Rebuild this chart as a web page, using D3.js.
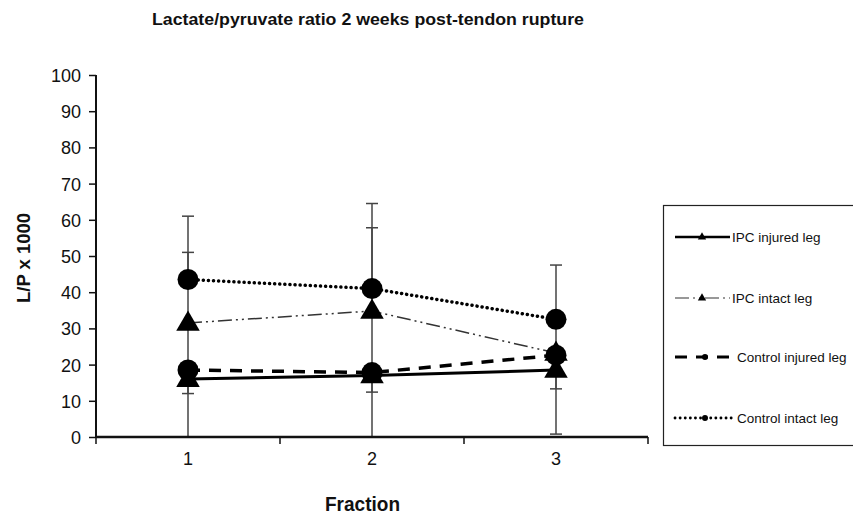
<!DOCTYPE html>
<html>
<head>
<script src="https://cdn.jsdelivr.net/npm/d3@7"></script>
<style>
  body { margin: 0; background: #fff; }
  text { font-family: "Liberation Sans", Arial, sans-serif; fill: #111; }
</style>
</head>
<body>
<svg></svg>
<script>
var w = 853, h = 515;

// data
var fractions = [1, 2, 3];
var seriesNames = ["IPC injured leg", "IPC intact leg", "Control injured leg", "Control intact leg"];
var ipcInjured = [16, 17, 18.5];
var ipcIntact = [31.5, 34.8, 23.2];
var controlInjured = [18.5, 17.8, 22.6];
var controlIntact = [43.5, 41, 32.5];
// error bars (upper / lower), null where none is drawn
var ipcInjuredUp = [null, null, null];
var ipcInjuredDown = [17, 18, 17.7];
var ipcIntactUp = [19.5, 23, 9.7];
var ipcIntactDown = [19.5, 22.4, 9.9];
var controlInjuredUp = [null, null, null];
var controlInjuredDown = [null, null, null];
var controlIntactUp = [17.5, 23.5, 15];
var controlIntactDown = [null, null, null];
var yTicks = [0, 10, 20, 30, 40, 50, 60, 70, 80, 90, 100];

var series = [
  {name: seriesNames[0], values: ipcInjured, up: ipcInjuredUp, down: ipcInjuredDown,
   marker: "tri", dash: null, width: 3, color: "#000"},
  {name: seriesNames[1], values: ipcIntact, up: ipcIntactUp, down: ipcIntactDown,
   marker: "tri", dash: "14,4,2,4,2,4", width: 1.5, color: "#333"},
  {name: seriesNames[2], values: controlInjured, up: controlInjuredUp, down: controlInjuredDown,
   marker: "circ", dash: "12,9", width: 3.5, color: "#000"},
  {name: seriesNames[3], values: controlIntact, up: controlIntactUp, down: controlIntactDown,
   marker: "circ", dash: "0.1,5", width: 3.5, color: "#000", round: true}
];

var svg = d3.select("svg").attr("width", w).attr("height", h);

var x = d3.scaleBand().domain(fractions).range([96, 648]);
var y = d3.scaleLinear().domain([0, 100]).range([437, 75]);
var cx = function(d) { return x(d) + x.bandwidth() / 2; };

// title
svg.append("text")
    .attr("x", 152).attr("y", 25)
    .attr("textLength", 432).attr("lengthAdjust", "spacingAndGlyphs")
    .style("font-size", "17px").style("font-weight", "bold")
    .text("Lactate/pyruvate ratio 2 weeks post-tendon rupture");

// error bars
series.forEach(function(s) {
  fractions.forEach(function(f, i) {
    var v = s.values[i];
    [[s.up[i], 1], [s.down[i], -1]].forEach(function(e) {
      if (e[0] == null) return;
      var end = v + e[1] * e[0];
      var clipped = end < 0;
      if (clipped) end = 0;
      svg.append("line")
          .attr("x1", cx(f)).attr("x2", cx(f))
          .attr("y1", y(v)).attr("y2", y(end))
          .attr("stroke", "#444").attr("stroke-width", 1.5);
      if (!clipped)
        svg.append("line")
            .attr("x1", cx(f) - 6).attr("x2", cx(f) + 6)
            .attr("y1", y(end)).attr("y2", y(end))
            .attr("stroke", "#444").attr("stroke-width", 1.5);
    });
  });
});

// axes
var yAxis = svg.append("g")
    .attr("transform", "translate(96,0)")
    .call(d3.axisLeft(y).tickValues(yTicks).tickSize(7).tickPadding(8));
yAxis.selectAll("text").style("font-size", "18px").attr("dy", "0.36em");
yAxis.selectAll("path, line").attr("stroke", "#111").attr("stroke-width", 1.5);
yAxis.select(".domain").attr("d", "M0,75V437").attr("stroke-width", 2);

var xAxis = svg.append("g")
    .attr("transform", "translate(0,437)")
    .call(d3.axisBottom(x).tickSize(0).tickPadding(15));
xAxis.selectAll("text").style("font-size", "18px");
xAxis.select(".domain").attr("d", "M96,0H648").attr("stroke", "#111").attr("stroke-width", 2.5);
// tick marks at category boundaries
var edges = fractions.map(function(f) { return x(f); }).concat([x.range()[1]]);
xAxis.selectAll(".edge").data(edges).enter().append("line")
    .attr("x1", function(d) { return d; }).attr("x2", function(d) { return d; })
    .attr("y1", 0).attr("y2", 7)
    .attr("stroke", "#111").attr("stroke-width", 1.5);

// axis titles
svg.append("text")
    .attr("transform", "translate(30,258) rotate(-90)")
    .attr("x", -45)
    .attr("textLength", 90).attr("lengthAdjust", "spacingAndGlyphs")
    .style("font-size", "19px").style("font-weight", "bold")
    .text("L/P x 1000");
svg.append("text")
    .attr("x", 325).attr("y", 511)
    .attr("textLength", 75).attr("lengthAdjust", "spacingAndGlyphs")
    .style("font-size", "20px").style("font-weight", "bold")
    .text("Fraction");

// lines
var line = d3.line()
    .x(function(d) { return cx(d.f); })
    .y(function(d) { return y(d.v); });

series.forEach(function(s) {
  var pts = fractions.map(function(f, i) { return {f: f, v: s.values[i]}; });
  svg.append("path")
      .datum(pts)
      .attr("d", line)
      .attr("fill", "none")
      .attr("stroke", s.color)
      .attr("stroke-width", s.width)
      .attr("stroke-dasharray", s.dash)
      .attr("stroke-linecap", s.round ? "round" : "butt");
});

// markers
var triangle = d3.symbol().type(d3.symbolTriangle).size(240);
series.forEach(function(s) {
  fractions.forEach(function(f, i) {
    if (s.marker == "tri") {
      svg.append("path")
          .attr("d", triangle())
          .attr("transform", "translate(" + cx(f) + "," + (y(s.values[i]) + 1) + ")")
          .attr("fill", "#000");
    } else {
      svg.append("circle")
          .attr("cx", cx(f)).attr("cy", y(s.values[i]))
          .attr("r", 10.5)
          .attr("fill", "#000");
    }
  });
});

// legend
svg.append("rect")
    .attr("x", 663.5).attr("y", 205.5)
    .attr("width", 200).attr("height", 240)
    .attr("fill", "none").attr("stroke", "#222").attr("stroke-width", 1.2);

var legendY = [237, 298, 357, 418];
var smallTri = d3.symbol().type(d3.symbolTriangle).size(30);
series.forEach(function(s, i) {
  var ly = legendY[i];
  var tri = s.marker == "tri";
  svg.append("line")
      .attr("x1", 675).attr("x2", tri ? 730 : 735)
      .attr("y1", ly).attr("y2", ly)
      .attr("stroke", s.color)
      .attr("stroke-width", s.width * 0.8)
      .attr("stroke-dasharray", s.dash)
      .attr("stroke-linecap", s.round ? "round" : "butt");
  if (tri) {
    svg.append("path").attr("d", smallTri())
        .attr("transform", "translate(702," + ly + ")").attr("fill", "#000");
  } else {
    svg.append("circle").attr("cx", 705).attr("cy", ly).attr("r", 3).attr("fill", "#000");
  }
  svg.append("text")
      .attr("x", tri ? 732 : 737).attr("y", ly + 5)
      .style("font-size", "13.5px")
      .text(s.name);
});
</script>
</body>
</html>
